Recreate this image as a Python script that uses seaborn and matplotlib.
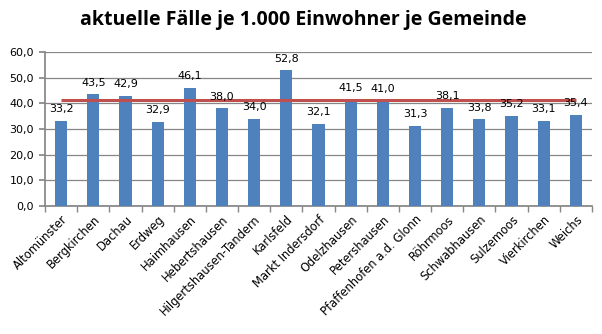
import numpy as np
import matplotlib
matplotlib.use("Agg")
import matplotlib.pyplot as plt
import seaborn as sns
import pandas as pd
from matplotlib.ticker import FixedLocator, FuncFormatter

gemeinden = ["Altomünster", "Bergkirchen", "Dachau", "Erdweg", "Haimhausen",
             "Hebertshausen", "Hilgertshausen-Tandern", "Karlsfeld",
             "Markt Indersdorf", "Odelzhausen", "Petershausen",
             "Pfaffenhofen a.d. Glonn", "Röhrmoos", "Schwabhausen",
             "Sulzemoos", "Vierkirchen", "Weichs"]
werte = [33.2, 43.5, 42.9, 32.9, 46.1, 38.0, 34.0, 52.8, 32.1, 41.5, 41.0,
         31.3, 38.1, 33.8, 35.2, 33.1, 35.4]
durchschnitt = 41.2

df = pd.DataFrame({"Gemeinde": gemeinden, "Wert": werte})

sns.set_theme(style="white")
plt.rcParams["font.family"] = ["DejaVu Sans"]
plt.rcParams["text.color"] = "black"
plt.rcParams["xtick.labelcolor"] = "black"
plt.rcParams["ytick.labelcolor"] = "black"

fig = plt.figure(figsize=(6.02, 3.34), dpi=100)
ax = fig.add_axes([45/602, 1-206/334, (592-45)/602, (206-52)/334])

sns.barplot(data=df, x="Gemeinde", y="Wert", color="#4F81BD", width=0.38,
            saturation=1, ax=ax, zorder=3, linewidth=0, edgecolor="none")

n = len(gemeinden)
ax.plot([0, n-1], [durchschnitt, durchschnitt], color="#C0504D", lw=2.2, zorder=4,
        solid_capstyle="butt")

for i, v in enumerate(werte):
    ax.text(i, v + 3.4, f"{v:.1f}".replace(".", ","), ha="center", va="baseline",
            fontsize=8, color="black", zorder=5)

ax.set_xlim(-0.5, n-0.5)
ax.set_ylim(0, 60)
ax.set_yticks(np.arange(0, 61, 10))
ax.yaxis.set_major_formatter(FuncFormatter(lambda y, p: f"{y:.1f}".replace(".", ",")))
ax.yaxis.grid(True, color="#868686", lw=0.9, zorder=0)
ax.xaxis.grid(False)
ax.set_xlabel("")
ax.set_ylabel("")

for s in ["top", "right"]:
    ax.spines[s].set_visible(False)
ax.spines["left"].set_color("#868686")
ax.spines["bottom"].set_color("#868686")

ax.tick_params(axis="y", length=4, color="#868686", labelsize=8, direction="out", left=True, pad=4)
ax.tick_params(axis="x", which="major", length=0, labelsize=8.3, pad=5)
ax.xaxis.set_minor_locator(FixedLocator(np.arange(-0.5, n, 1.0)))
ax.tick_params(axis="x", which="minor", length=4, color="#868686", bottom=True, direction="out")
ax.set_xticks(range(n))
ax.set_xticklabels(gemeinden, rotation=45, ha="right", rotation_mode="anchor")

fig.text(303/602, 1-25/334, "aktuelle Fälle je 1.000 Einwohner je Gemeinde",
         ha="center", va="baseline", fontsize=14, fontweight="bold",
         family=["Open Sans", "DejaVu Sans"], color="black")

fig.savefig("out.png", dpi=100)
